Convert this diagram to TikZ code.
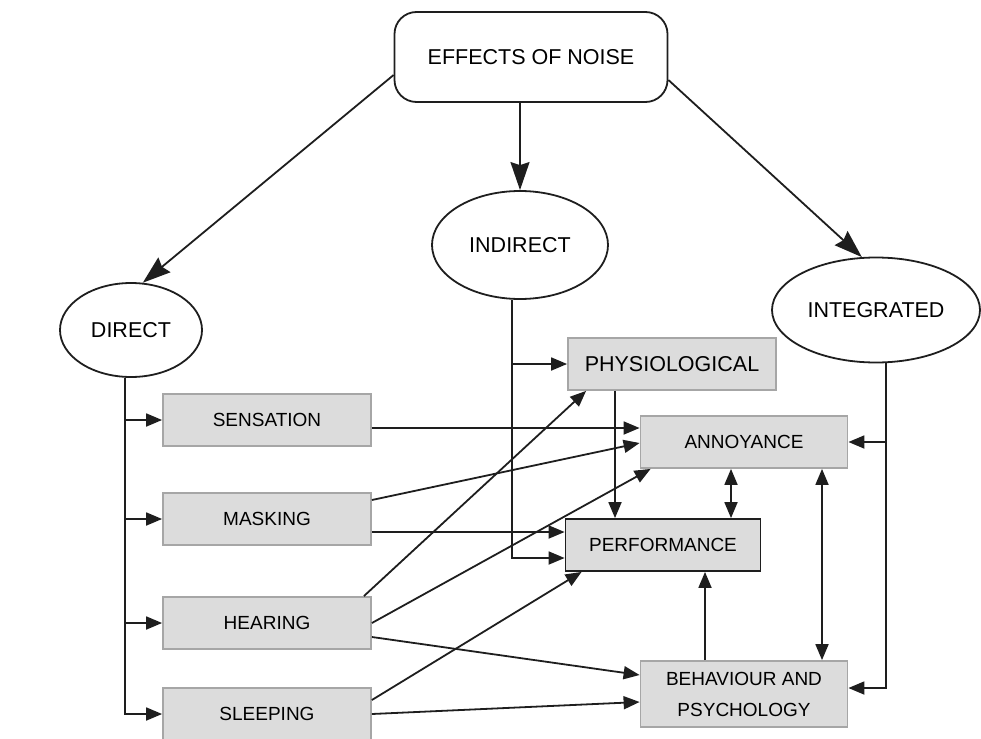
\documentclass[tikz,border=0pt]{standalone}
\usepackage{fontspec}
\setmainfont{Liberation Sans}
\usepackage{xcolor}
\usetikzlibrary{arrows.meta,positioning,shapes.geometric,calc}
\definecolor{boxfill}{HTML}{DCDCDC}
\definecolor{boxline}{HTML}{A6A6A6}
\definecolor{ink}{HTML}{1E1E1E}

\begin{document}
\begin{tikzpicture}[
  x=1pt, y=-1pt,
  line width=1.8pt, draw=ink,
  big/.style={font=\fontsize{21.5pt}{26pt}\selectfont},
  mid/.style={font=\fontsize{19pt}{31pt}\selectfont},
  root/.style={rectangle, draw=ink, rounded corners=22pt, minimum width=273pt,
    minimum height=90pt, inner sep=0pt, big},
  kind/.style={ellipse, draw=ink, inner sep=0pt, big},
  effect/.style={rectangle, draw=boxline, fill=boxfill, inner sep=0pt,
    minimum width=208pt, minimum height=52pt, align=center, mid},
  arrow/.style={-{Triangle[length=16pt,width=13pt]}, ink},
  bigarrow/.style={-{Stealth[length=28pt,width=19pt,inset=3pt]}, ink},
  dblarrow/.style={{Triangle[length=16pt,width=13pt]}-{Triangle[length=16pt,width=13pt]}, ink},
]
  \useasboundingbox (0,0) rectangle (981,738);

  % top and the three kinds of effect
  \node[root] (effects) at (531,57) {EFFECTS OF NOISE};
  \node[kind, minimum width=142pt, minimum height=94pt]  (direct)     at (131,330) {DIRECT};
  \node[kind, minimum width=176pt, minimum height=108pt] (indirect)   at (520,245) {INDIRECT};
  \node[kind, minimum width=208pt, minimum height=105pt] (integrated) at (876,310) {INTEGRATED};

  % direct effects
  \node[effect] (sensation) at (267,420) {SENSATION};
  \node[effect] (masking)   at (267,519) {MASKING};
  \node[effect] (hearing)   at (267,623) {HEARING};
  \node[effect] (sleeping)  at (267,714) {SLEEPING};

  % outcomes
  \node[effect, big] (physio)      at (672,364) {PHYSIOLOGICAL};
  \node[effect, minimum width=207pt] (annoyance) at (744,442) {ANNOYANCE};
  \node[effect, draw=ink, minimum width=195pt] (performance) at (663,545) {PERFORMANCE};
  \node[effect, minimum width=207pt, minimum height=66pt] (behaviour) at (744,694)
    {BEHAVIOUR AND\\PSYCHOLOGY};

  \draw[bigarrow] ([yshift=-18pt]effects.west) -- (direct.76);
  \draw[bigarrow] (indirect.north |- effects.south) -- (indirect.north);
  \draw[bigarrow] ([yshift=-23pt]effects.east) -- (integrated.105);

  % trunks
  \coordinate (dtop) at ([xshift=-6pt]direct.south);
  \coordinate (itop) at ([xshift=-8pt]indirect.south);
  \coordinate (gtop) at ([xshift=10pt]integrated.south);

  \draw[arrow] (dtop) |- (sleeping.west);
  \foreach \n in {sensation,masking,hearing}
    \draw[arrow] (dtop |- \n.west) -- (\n.west);

  \draw[arrow] (itop) |- ([yshift=-13pt]performance.west);
  \draw[arrow] (itop |- physio.west) -- (physio.west);

  \draw[arrow] (gtop) |- ([yshift=6pt]behaviour.east);
  \draw[arrow] (gtop |- annoyance.east) -- (annoyance.east);

  % vertical links between outcomes
  \coordinate (pp) at ([xshift=-48pt]performance.north);
  \coordinate (ap) at ([xshift=68pt]performance.north);
  \coordinate (ab) at ([xshift=78pt]behaviour.north);
  \coordinate (bp) at ([xshift=-39pt]behaviour.north);
  \draw[arrow]    (pp |- physio.south) -- (pp);
  \draw[dblarrow] (ap |- annoyance.south) -- (ap);
  \draw[dblarrow] (ab |- annoyance.south) -- (ab);
  \draw[arrow]    (bp) -- (bp |- performance.south);

  % direct effects to outcomes
  \coordinate (sa) at ([yshift=-8pt]sensation.east);
  \draw[arrow] (sa) -- (sa -| annoyance.west);
  \draw[arrow] ([yshift=19pt]masking.east) -- ([yshift=-1pt]annoyance.west);
  \draw[arrow] ([yshift=-13pt]masking.east) -- ([yshift=13pt]performance.west);
  \draw[arrow] ([xshift=-8pt]hearing.north east) -- ([xshift=19pt]physio.south west);
  \draw[arrow] (hearing.east) -- ([xshift=11pt]annoyance.south west);
  \draw[arrow] ([yshift=-14pt]hearing.east) -- ([yshift=19pt]behaviour.west);
  \draw[arrow] ([yshift=14pt]sleeping.east) -- ([xshift=17pt]performance.south west);
  \draw[arrow] (sleeping.east) -- ([yshift=-8pt]behaviour.west);
\end{tikzpicture}
\end{document}
